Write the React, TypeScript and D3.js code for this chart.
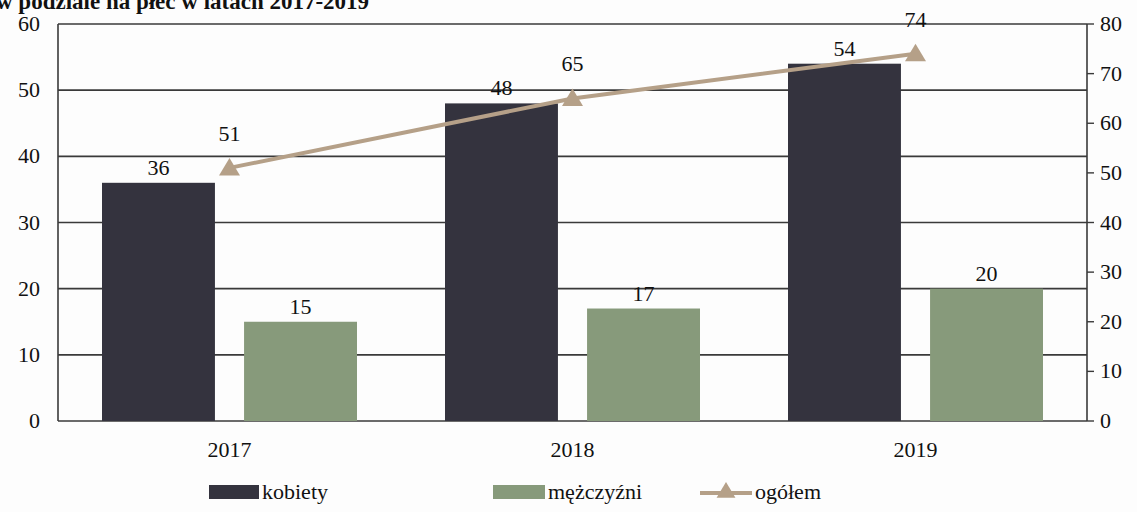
import React from "react";
import * as d3 from "d3";

const categories = ["2017", "2018", "2019"];
const kobiety = [36, 48, 54];
const mezczyzni = [15, 17, 20];
const ogolem = [51, 65, 74];
const leftTicks = [0, 10, 20, 30, 40, 50, 60];
const rightTicks = [0, 10, 20, 30, 40, 50, 60, 70, 80];
const seriesNames = ["kobiety", "mężczyźni", "ogółem"];
const title = "w podziale na płeć w latach 2017-2019";

const W = 1137, H = 512;
const L = 58, R = 1087, T = 24, B = 421;
const DARK = "#34333e", GREEN = "#879a7b", TAN = "#b5a088", GRID = "#3a3a3a";
const FONT = "Liberation Serif, DejaVu Serif, Times New Roman, serif";
const FS = 22;

export default function App() {
  const x0 = d3.scaleBand().domain(categories).range([L, R]).paddingInner(0).paddingOuter(0);
  const x1 = d3.scaleBand().domain(["k", "m"]).range([44, x0.bandwidth() - 44]).paddingInner(0.205);
  const yL = d3.scaleLinear().domain([0, 60]).range([B, T]);
  const yR = d3.scaleLinear().domain([0, 80]).range([B, T]);
  const cx = (c: string) => (x0(c) as number) + x0.bandwidth() / 2;
  const line = d3.line<number>().x((_, i) => cx(categories[i])).y((d) => yR(d));
  const tri = (x: number, y: number, s: number) =>
    `M${x},${y - s} L${x + s * 1.05},${y + s * 0.75} L${x - s * 1.05},${y + s * 0.75} Z`;
  const ts: React.CSSProperties = { fontFamily: FONT, fontSize: FS };

  return (
    <svg width={W} height={H} style={{ position: "absolute", left: 0, top: 0, background: "#fff" }}>
      <rect width={W} height={H} fill="#fdfdfd" />
      <text x={-4} y={9} style={{ fontFamily: FONT, fontSize: 23, fontWeight: "bold" }} fill="#111">{title}</text>
      {leftTicks.map((t) => (
        <line key={t} x1={L} x2={R} y1={yL(t)} y2={yL(t)} stroke={GRID} strokeWidth={1.6} />
      ))}
      {categories.map((c, i) => (
        <g key={c}>
          <rect x={(x0(c) as number) + (x1("k") as number)} y={yL(kobiety[i])} width={x1.bandwidth()} height={B - yL(kobiety[i])} fill={DARK} />
          <rect x={(x0(c) as number) + (x1("m") as number)} y={yL(mezczyzni[i])} width={x1.bandwidth()} height={B - yL(mezczyzni[i])} fill={GREEN} />
          <text x={(x0(c) as number) + (x1("k") as number) + x1.bandwidth() / 2} y={yL(kobiety[i]) - 8} textAnchor="middle" style={ts} fill="#111">{kobiety[i]}</text>
          <text x={(x0(c) as number) + (x1("m") as number) + x1.bandwidth() / 2} y={yL(mezczyzni[i]) - 8} textAnchor="middle" style={ts} fill="#111">{mezczyzni[i]}</text>
          <text x={cx(c)} y={457} textAnchor="middle" style={ts} fill="#111">{c}</text>
        </g>
      ))}
      <line x1={L} x2={L} y1={T} y2={B} stroke={GRID} strokeWidth={1.6} />
      <line x1={R} x2={R} y1={T} y2={B} stroke={GRID} strokeWidth={1.6} />
      {rightTicks.map((t) => (
        <g key={t}>
          <line x1={R} x2={R + 7} y1={yR(t)} y2={yR(t)} stroke={GRID} strokeWidth={1.4} />
          <text x={1100} y={yR(t) + 7} style={ts} fill="#111">{t}</text>
        </g>
      ))}
      {leftTicks.map((t) => (
        <text key={t} x={40} y={yL(t) + 7} textAnchor="end" style={ts} fill="#111">{t}</text>
      ))}
      <path d={line(ogolem) as string} fill="none" stroke={TAN} strokeWidth={4} />
      {ogolem.map((v, i) => (
        <g key={i}>
          <path d={tri(cx(categories[i]), yR(v), 10)} fill={TAN} />
          <text x={cx(categories[i])} y={yR(v) - 27} textAnchor="middle" style={ts} fill="#111">{v}</text>
        </g>
      ))}
      <rect x={209} y={485} width={50} height={14} fill={DARK} />
      <text x={262} y={499} style={ts} fill="#111">{seriesNames[0]}</text>
      <rect x={493} y={485} width={52} height={14} fill={GREEN} />
      <text x={548} y={499} style={ts} fill="#111">{seriesNames[1]}</text>
      <line x1={700} x2={752} y1={493} y2={493} stroke={TAN} strokeWidth={4} />
      <path d={tri(726, 491, 9)} fill={TAN} />
      <text x={755} y={499} style={ts} fill="#111">{seriesNames[2]}</text>
    </svg>
  );
}
